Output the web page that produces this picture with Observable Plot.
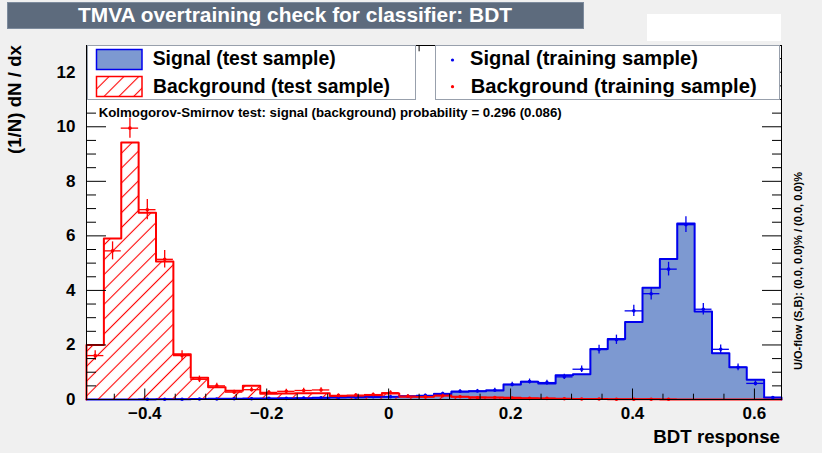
<!DOCTYPE html>
<html><head><meta charset="utf-8">
<script src="https://cdn.jsdelivr.net/npm/d3@7"></script>
<script src="https://cdn.jsdelivr.net/npm/@observablehq/plot@0.6"></script>
<style>
html,body{margin:0;padding:0;background:#f0f0f0;}
#chart{width:822px;height:453px;}
</style></head><body><div id="chart"></div>
<script>
// ---- data ----
const xMin = -0.4956, xMax = 0.6444, nBins = 40;
const yMax = 12.98;
const xMajorTicks = [-0.4, -0.2, 0, 0.2, 0.4, 0.6];
const xMinorTicks = [-0.45, -0.35, -0.3, -0.25, -0.15, -0.1, -0.05, 0.05, 0.1, 0.15, 0.25, 0.3, 0.35, 0.45, 0.5, 0.55];
const yMajorTicks = [0, 2, 4, 6, 8, 10, 12];
const yMinorTicks = [0.5, 1, 1.5, 2.5, 3, 3.5, 4.5, 5, 5.5, 6.5, 7, 7.5, 8.5, 9, 9.5, 10.5, 11, 11.5, 12.5];

const sigTest = [0, 0, 0, 0, 0.01, 0.01, 0.02, 0.03, 0.03, 0.04,
  0.04, 0.05, 0.05, 0.06, 0.08, 0.08, 0.09, 0.1, 0.12, 0.13,
  0.2, 0.28, 0.3, 0.33, 0.55, 0.65, 0.59, 0.89, 0.93, 1.85,
  2.22, 2.84, 4.1, 5.15, 6.45, 3.23, 1.7, 1.18, 0.72, 0.07];
const sigTrain = [0, 0, 0, 0.01, 0.01, 0.01, 0.02, 0.02, 0.03, 0.03,
  0.04, 0.04, 0.05, 0.06, 0.07, 0.08, 0.1, 0.1, 0.12, 0.15,
  0.22, 0.3, 0.31, 0.34, 0.55, 0.66, 0.62, 0.83, 1.11, 1.83,
  2.19, 3.25, 3.88, 4.78, 6.41, 3.31, 1.84, 1.18, 0.59, 0.07];
const sigTrainErr = [0, 0, 0, 0.01, 0.01, 0.01, 0.02, 0.02, 0.02, 0.02,
  0.02, 0.02, 0.03, 0.03, 0.03, 0.03, 0.04, 0.04, 0.04, 0.04,
  0.05, 0.06, 0.06, 0.07, 0.085, 0.09, 0.09, 0.1, 0.12, 0.16,
  0.17, 0.21, 0.23, 0.25, 0.29, 0.21, 0.16, 0.125, 0.09, 0.03];
const bkgTest = [2.0, 5.9, 9.42, 6.85, 5.06, 1.66, 0.8, 0.45, 0.32, 0.5,
  0.21, 0.22, 0.23, 0.23, 0.13, 0.12, 0.13, 0.22, 0.1, 0.1,
  0.15, 0.1, 0.08, 0.07, 0.06, 0.05, 0.04, 0.03, 0.02, 0.02,
  0.01, 0.01, 0.01, 0, 0, 0, 0, 0, 0, 0];
const bkgTrain = [1.61, 5.45, 9.95, 6.96, 5.14, 1.61, 0.74, 0.5, 0.27, 0.36,
  0.26, 0.3, 0.33, 0.35, 0.15, 0.16, 0.18, 0.25, 0.12, 0.1,
  0.14, 0.1, 0.06, 0.07, 0.05, 0.04, 0.04, 0.03, 0.02, 0.02,
  0.01, 0.01, 0.01, 0.01, 0, 0, 0, 0, 0, 0];
const bkgTrainErr = [0.18, 0.33, 0.37, 0.37, 0.32, 0.18, 0.12, 0.1, 0.07, 0.08,
  0.07, 0.08, 0.08, 0.08, 0.05, 0.05, 0.06, 0.07, 0.05, 0.04,
  0.05, 0.04, 0.03, 0.03, 0.03, 0.02, 0.02, 0.02, 0.02, 0.02,
  0.01, 0.01, 0.01, 0.01, 0, 0, 0, 0, 0, 0];

const titleText = "TMVA overtraining check for classifier: BDT";
const xTitle = "BDT response";
const yTitle = "(1/N) dN / dx";
const ksText = "Kolmogorov-Smirnov test: signal (background) probability = 0.296 (0.086)";
const uoText = "U/O-flow (S,B): (0.0, 0.0)% / (0.0, 0.0)%";
const legendLeft = ["Signal (test sample)", "Background (test sample)"];
const legendRight = ["Signal (training sample)", "Background (training sample)"];

// ---- helpers ----
const binW = (xMax - xMin) / nBins;
const edges = d3.range(nBins + 1).map(i => xMin + i * binW);
function outline(vals) {
  const pts = [{x: edges[0], y: 0}];
  vals.forEach((v, i) => { pts.push({x: edges[i], y: v}, {x: edges[i + 1], y: v}); });
  pts.push({x: edges[nBins], y: 0});
  return pts;
}
function points(vals, errs) {
  return vals.map((v, i) => ({x: (edges[i] + edges[i + 1]) / 2, x1: edges[i], x2: edges[i + 1], y: v, lo: v - errs[i], hi: v + errs[i]}))
    .filter(d => d.y > 0);
}
const fmtX = d => d === 0 ? "0" : (d < 0 ? "\u2212" : "") + Math.abs(d).toFixed(1);

const SIGFILL = "#7d99d1", SIGLINE = "#0000ee", BKG = "#ff0000";
const FONT = "'Liberation Sans', Arial, Helvetica, sans-serif";

const sigPts = points(sigTrain, sigTrainErr);
const bkgPts = points(bkgTrain, bkgTrainErr);
const blank = () => "";
const zero = () => 0;

const plot = Plot.plot({
  width: 822, height: 453,
  marginLeft: 86, marginRight: 41, marginTop: 45, marginBottom: 54,
  style: {background: "#f0f0f0", fontFamily: FONT, overflow: "visible"},
  x: {domain: [xMin, xMax], label: null},
  y: {domain: [0, yMax], label: null},
  marks: [
    Plot.frame({fill: "white", stroke: null}),
    Plot.area(outline(sigTest), {x1: "x", y1: zero, y2: "y", fill: SIGFILL}),
    Plot.line(outline(sigTest), {x: "x", y: "y", stroke: SIGLINE, strokeWidth: 2}),
    Plot.area(outline(bkgTest), {x1: "x", y1: zero, y2: "y", fill: "url(#bkgHatch)"}),
    Plot.line(outline(bkgTest), {x: "x", y: "y", stroke: BKG, strokeWidth: 2}),
    Plot.ruleY(sigPts, {y: "y", x1: "x1", x2: "x2", stroke: SIGLINE, strokeWidth: 1.3}),
    Plot.ruleX(sigPts, {x: "x", y1: "lo", y2: "hi", stroke: SIGLINE, strokeWidth: 1.3}),
    Plot.dot(sigPts, {x: "x", y: "y", r: 1.8, fill: SIGLINE, stroke: null}),
    Plot.ruleY(bkgPts, {y: "y", x1: "x1", x2: "x2", stroke: BKG, strokeWidth: 1.3}),
    Plot.ruleX(bkgPts, {x: "x", y1: "lo", y2: "hi", stroke: BKG, strokeWidth: 1.3}),
    Plot.dot(bkgPts, {x: "x", y: "y", r: 1.8, fill: BKG, stroke: null}),
    // ticks (inward)
    Plot.axisX({anchor: "bottom", ticks: xMajorTicks, tickSize: -10.5, tickFormat: blank, label: null}),
    Plot.axisX({anchor: "bottom", ticks: xMinorTicks, tickSize: -5.3, tickFormat: blank, label: null}),
    Plot.axisX({anchor: "top", ticks: xMajorTicks, tickSize: -10.5, tickFormat: blank, label: null}),
    Plot.axisX({anchor: "top", ticks: xMinorTicks, tickSize: -5.3, tickFormat: blank, label: null}),
    Plot.axisY({anchor: "left", ticks: yMajorTicks, tickSize: -20, tickFormat: blank, label: null}),
    Plot.axisY({anchor: "left", ticks: yMinorTicks, tickSize: -10, tickFormat: blank, label: null}),
    Plot.axisY({anchor: "right", ticks: yMajorTicks, tickSize: -20, tickFormat: blank, label: null}),
    Plot.axisY({anchor: "right", ticks: yMinorTicks, tickSize: -10, tickFormat: blank, label: null}),
    // tick labels
    Plot.axisX({anchor: "bottom", ticks: xMajorTicks, tickSize: 0, tickPadding: 7, tickFormat: fmtX, label: null,
      fontSize: 17, fontWeight: "bold", fill: "black"}),
    Plot.axisY({anchor: "left", ticks: yMajorTicks, tickSize: 0, tickPadding: 11, tickFormat: d => String(d), label: null,
      fontSize: 17, fontWeight: "bold", fill: "black"}),
    Plot.frame({stroke: "black", strokeWidth: 1})
  ]
});
document.getElementById("chart").appendChild(plot);

// ---- decorations ----
const svg = d3.select(plot);
const defs = svg.insert("defs", ":first-child");
const HS = 10.5;
const pat = defs.append("pattern").attr("id", "bkgHatch").attr("patternUnits", "userSpaceOnUse")
  .attr("width", HS).attr("height", HS).attr("patternTransform", "rotate(45)");
pat.append("line").attr("x1", HS / 2).attr("y1", 0).attr("x2", HS / 2).attr("y2", HS)
  .attr("stroke", BKG).attr("stroke-width", 1.1);

const deco = svg.append("g").attr("font-family", FONT).attr("font-weight", "bold");
function txt(g, s, x, y, size, opts = {}) {
  const t = g.append("text").attr("x", x).attr("y", y).attr("font-size", size).text(s)
    .attr("fill", opts.fill || "black")
    .attr("text-anchor", opts.anchor || "start");
  if (opts.len) t.attr("textLength", opts.len).attr("lengthAdjust", "spacingAndGlyphs");
  if (opts.transform) t.attr("transform", opts.transform);
  return t;
}
// title box
deco.append("rect").attr("x", 7.5).attr("y", 2.5).attr("width", 576).attr("height", 26)
  .attr("fill", "#5d6b7d").attr("stroke", "#7d8b9d").attr("stroke-width", 1);
txt(deco, titleText, 295, 22, 20.5, {fill: "white", anchor: "middle", len: 434});
// white box top right
deco.append("rect").attr("x", 647).attr("y", 14).attr("width", 134).attr("height", 27).attr("fill", "white");

// left legend
deco.append("rect").attr("x", 87.5).attr("y", 45.5).attr("width", 328).attr("height", 54)
  .attr("fill", "white").attr("stroke", "#98a0ac").attr("stroke-width", 1);
deco.append("rect").attr("x", 96.5).attr("y", 49.5).attr("width", 45.5).attr("height", 20)
  .attr("fill", SIGFILL).attr("stroke", SIGLINE).attr("stroke-width", 1.5);
deco.append("rect").attr("x", 96.5).attr("y", 76.5).attr("width", 45.5).attr("height", 20)
  .attr("fill", "url(#bkgHatch)").attr("stroke", BKG).attr("stroke-width", 1.5);
txt(deco, legendLeft[0], 152.7, 65, 19.8, {len: 183});
txt(deco, legendLeft[1], 153, 93.3, 19.8, {len: 237});

// right legend
deco.append("rect").attr("x", 435.5).attr("y", 45.5).attr("width", 344).attr("height", 54)
  .attr("fill", "white").attr("stroke", "#98a0ac").attr("stroke-width", 1);
deco.append("circle").attr("cx", 452.5).attr("cy", 60).attr("r", 1.6).attr("fill", SIGLINE);
deco.append("circle").attr("cx", 452.5).attr("cy", 86.7).attr("r", 1.6).attr("fill", BKG);
txt(deco, legendRight[0], 470, 64.5, 19.8, {len: 228});
txt(deco, legendRight[1], 470.7, 93.3, 19.8, {len: 286});

// KS text
txt(deco, ksText, 98.7, 117, 12.5, {len: 463});

// axis titles
txt(deco, xTitle, 780, 443, 18.7, {anchor: "end"});
txt(deco, yTitle, 0, 0, 18.7, {anchor: "end", transform: "translate(21,45) rotate(-90)"});
txt(deco, uoText, 0, 0, 11, {anchor: "start", len: 198, transform: "translate(802,370) rotate(-90)"});
</script>
</body></html>
